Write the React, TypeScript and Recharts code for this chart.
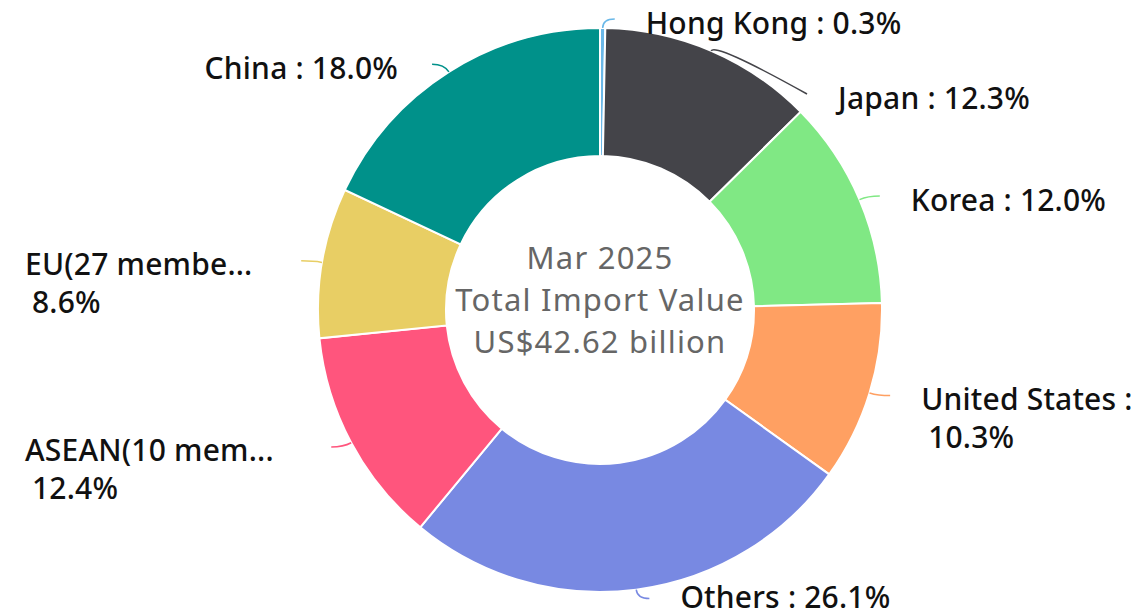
import { PieChart, Pie, Cell } from 'recharts';

const categories = ['Hong Kong', 'Japan', 'Korea', 'United States', 'Others', 'ASEAN(10 members)', 'EU(27 members)', 'China'];
const shares = [0.3, 12.3, 12.0, 10.3, 26.1, 12.4, 8.6, 18.0];
const colors = ['#6ab8e8', '#444449', '#80e884', '#ffa062', '#7889e2', '#ff557d', '#e8ce64', '#00918a'];
const centerLines = ['Mar 2025', 'Total Import Value', 'US$42.62 billion'];

const W = 1135;
const H = 614;
const CX = 600;
const CY = 310;
const R_OUT = 282;
const R_IN = 154;
const LABEL_SIZE = 30;
const LABEL_LS = 0.2;
const LABEL_FONT = `500 ${LABEL_SIZE}px "Noto Sans"`;
const RAD = Math.PI / 180;

const data = categories.map((name, i) => ({ name, value: shares[i] }));

let ctx: CanvasRenderingContext2D | null = null;
function measure(s: string) {
  if (!ctx) {
    ctx = document.createElement('canvas').getContext('2d');
  }
  if (!ctx) return s.length * LABEL_SIZE * 0.55;
  ctx.font = LABEL_FONT;
  return ctx.measureText(s).width + s.length * LABEL_LS;
}

function truncate(name: string, avail: number) {
  let s = name;
  while (s.length > 1 && measure(s + '...') > avail) s = s.slice(0, -1);
  return s + '...';
}

// label layout, highcharts-ish: connector out of the rim, labels pushed apart vertically
function buildLayout() {
  const total = shares.reduce((a, b) => a + b, 0);
  const rc = R_OUT + 9;
  let acc = 0;
  const items = shares.map((v, i) => {
    const a = ((acc + v / 2) / total) * 360;
    acc += v;
    const right = Math.sin(a * RAD) >= 0;
    return { i, a, right, y: CY - rc * Math.cos(a * RAD) };
  });
  for (const side of [true, false]) {
    const list = items.filter((it) => it.right === side).sort((p, q) => p.y - q.y);
    for (let k = 1; k < list.length; k++) {
      if (list[k].y < list[k - 1].y + 75) list[k].y = list[k - 1].y + 75;
    }
  }
  return items.map((it) => {
    const dy = it.y - CY;
    const dx = Math.sqrt(Math.max(0, rc * rc - dy * dy));
    const px = it.right ? CX + dx : CX - dx;
    const ex = it.right ? px + 12 : px - 12;
    const name = categories[it.i];
    const pct = `${shares[it.i].toFixed(1)}%`;
    const full = `${name} : ${pct}`;
    let lines: string[];
    let tx: number;
    let anchor: 'start' | 'end' = 'start';
    if (it.right) {
      tx = ex + 31;
      const avail = W - tx + 2;
      if (measure(full) <= avail) lines = [full];
      else if (measure(`${name} :`) <= avail) lines = [`${name} :`, pct];
      else lines = [truncate(name, avail), pct];
    } else {
      const right = ex - 44;
      const avail = right - 25;
      if (measure(full) <= avail) {
        lines = [full];
        tx = right + 10;
        anchor = 'end';
      } else {
        const s = measure(`${name} :`) <= avail ? `${name} :` : truncate(name, avail);
        lines = [s, pct];
        tx = 25;
      }
    }
    return { ...it, ex, ey: it.y, tx, anchor, lines };
  });
}

function renderLabel(layout: ReturnType<typeof buildLayout>) {
  return (props: any) => {
    const { index, cx, cy, midAngle, outerRadius } = props;
    const L = layout[index];
    if (!L) return null;
    const x0 = cx + outerRadius * Math.cos(-midAngle * RAD);
    const y0 = cy + outerRadius * Math.sin(-midAngle * RAD);
    const x1 = cx + (outerRadius + 9) * Math.cos(-midAngle * RAD);
    const y1 = cy + (outerRadius + 9) * Math.sin(-midAngle * RAD);
    return (
      <g key={`lbl-${index}`}>
        <path
          d={`M${x0},${y0} Q${x1},${y1} ${L.ex},${L.ey}`}
          stroke={colors[index]}
          strokeWidth={1.5}
          fill="none"
        />
        {L.lines.map((t, k) => (
          <text
            key={k}
            x={L.tx + (k > 0 ? 7 : 0)}
            y={Math.min(H - 18, L.ey + 3 + k * 38)}
            textAnchor={L.anchor}
            dominantBaseline="central"
            fontFamily='"Noto Sans", sans-serif'
            fontSize={LABEL_SIZE}
            fontWeight={500}
            letterSpacing={LABEL_LS}
            fill="#111"
          >
            {t}
          </text>
        ))}
      </g>
    );
  };
}

export default function App() {
  const layout = buildLayout();
  return (
    <div style={{ position: 'absolute', left: 0, top: 0, width: W, height: H, background: '#fff' }}>
      <PieChart width={W} height={H} margin={{ top: 0, right: 0, bottom: 0, left: 0 }}>
        <Pie
          data={data}
          dataKey="value"
          nameKey="name"
          cx={CX}
          cy={CY}
          innerRadius={R_IN}
          outerRadius={R_OUT}
          startAngle={90}
          endAngle={-270}
          stroke="#fff"
          strokeWidth={2}
          labelLine={false}
          label={renderLabel(layout)}
          isAnimationActive={false}
        >
          {data.map((d, i) => (
            <Cell key={d.name} fill={colors[i]} />
          ))}
        </Pie>
      </PieChart>
      <svg width={W} height={H} style={{ position: 'absolute', left: 0, top: 0, pointerEvents: 'none' }}>
        {centerLines.map((t, k) => (
          <text
            key={k}
            x={CX}
            y={CY - 53 + k * 42}
            textAnchor="middle"
            dominantBaseline="central"
            fontFamily='"Noto Sans", sans-serif'
            fontSize={31}
            letterSpacing={1.2}
            fill="#666"
          >
            {t}
          </text>
        ))}
      </svg>
    </div>
  );
}
